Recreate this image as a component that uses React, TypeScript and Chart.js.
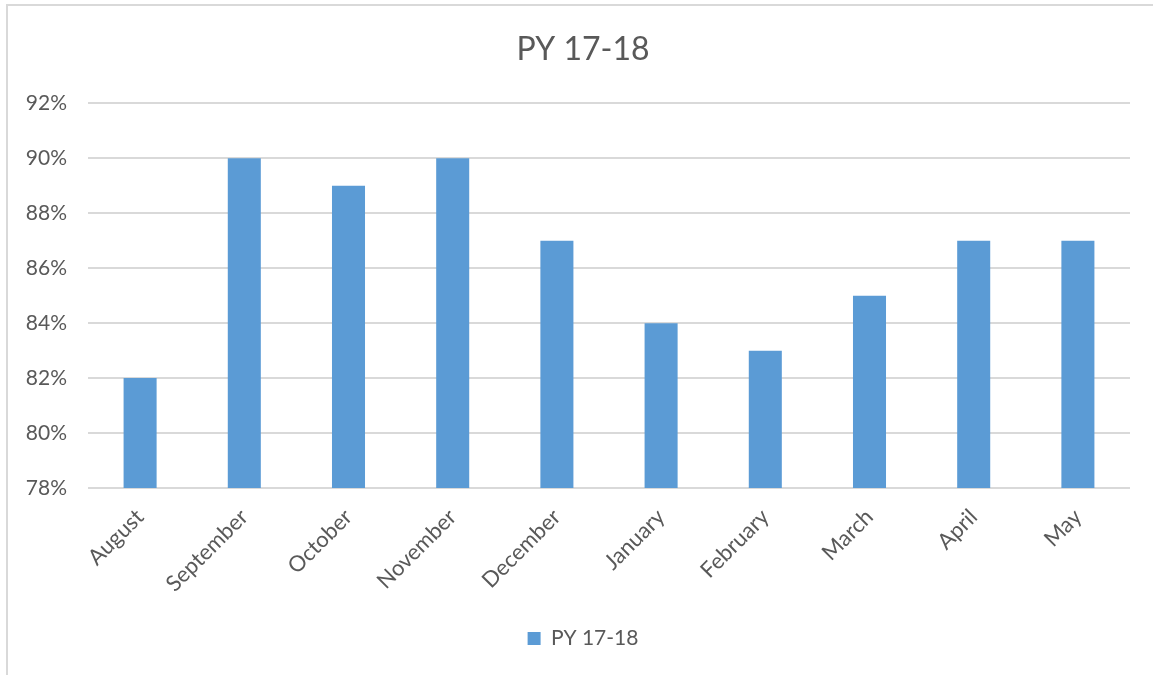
import React, { useEffect, useRef } from "react";
import { Chart, registerables } from "chart.js";

Chart.register(...registerables);

const categories = ["August", "September", "October", "November", "December", "January", "February", "March", "April", "May"];
const seriesName = "PY 17-18";
const values = [82, 90, 89, 90, 87, 84, 83, 85, 87, 87];
const yMin = 78;
const yMax = 92;
const yStep = 2;

const FONT = "Lato, 'Open Sans', sans-serif";
const TEXT = "#595959";

const framePlugin = {
  id: "frame",
  beforeDraw(chart: any) {
    const ctx = chart.ctx;
    ctx.save();
    ctx.fillStyle = "#ffffff";
    ctx.fillRect(0, 0, chart.width, chart.height);
    ctx.strokeStyle = "#d9d9d9";
    ctx.lineWidth = 2;
    ctx.beginPath();
    ctx.moveTo(7, chart.height);
    ctx.lineTo(7, 5);
    ctx.lineTo(chart.width, 5);
    ctx.stroke();
    ctx.restore();
  },
};

export default function App() {
  const ref = useRef<HTMLCanvasElement>(null);
  useEffect(() => {
    const chart = new Chart(ref.current!, {
      type: "bar",
      data: {
        labels: categories,
        datasets: [
          {
            label: seriesName,
            data: values,
            backgroundColor: "#5b9bd5",
            borderWidth: 0,
            categoryPercentage: 1,
            barPercentage: 0.317,
          },
        ],
      },
      options: {
        animation: false,
        responsive: false,
        maintainAspectRatio: false,
        layout: { padding: { left: 13, right: 0, top: 0, bottom: 16 } },
        plugins: {
          title: {
            display: true,
            text: seriesName,
            color: TEXT,
            font: { family: FONT, size: 32, weight: "normal" },
            padding: { top: 30, bottom: 35 },
          },
          legend: {
            position: "bottom",
            labels: {
              color: TEXT,
              font: { family: FONT, size: 21 },
              boxWidth: 13,
              boxHeight: 13,
              padding: 10,
            },
          },
          tooltip: { enabled: false },
        },
        scales: {
          x: {
            grid: { display: false },
            border: { display: false },
            ticks: {
              color: TEXT,
              font: { family: FONT, size: 22 },
              minRotation: 45,
              maxRotation: 45,
              autoSkip: false,
              padding: 8,
            },
            afterFit(scale: any) {
              scale.height = 130;
            },
          },
          y: {
            min: yMin,
            max: yMax,
            grid: { color: "#d9d9d9", lineWidth: 2, drawTicks: false },
            border: { display: false },
            ticks: {
              stepSize: yStep,
              color: TEXT,
              font: { family: FONT, size: 21 },
              padding: 21,
              callback: (v: any) => v + "%",
            },
            afterFit(scale: any) {
              scale.width = 75;
            },
          },
          yRight: {
            position: "right",
            min: yMin,
            max: yMax,
            grid: { display: false },
            border: { display: false },
            ticks: { display: false },
            afterFit(scale: any) {
              scale.width = 23;
            },
          },
        },
      },
      plugins: [framePlugin],
    });
    return () => chart.destroy();
  }, []);
  return (
    <div style={{ position: "absolute", left: 0, top: 0, width: 1153, height: 675 }}>
      <canvas ref={ref} width={1153} height={675} style={{ width: 1153, height: 675 }} />
    </div>
  );
}
